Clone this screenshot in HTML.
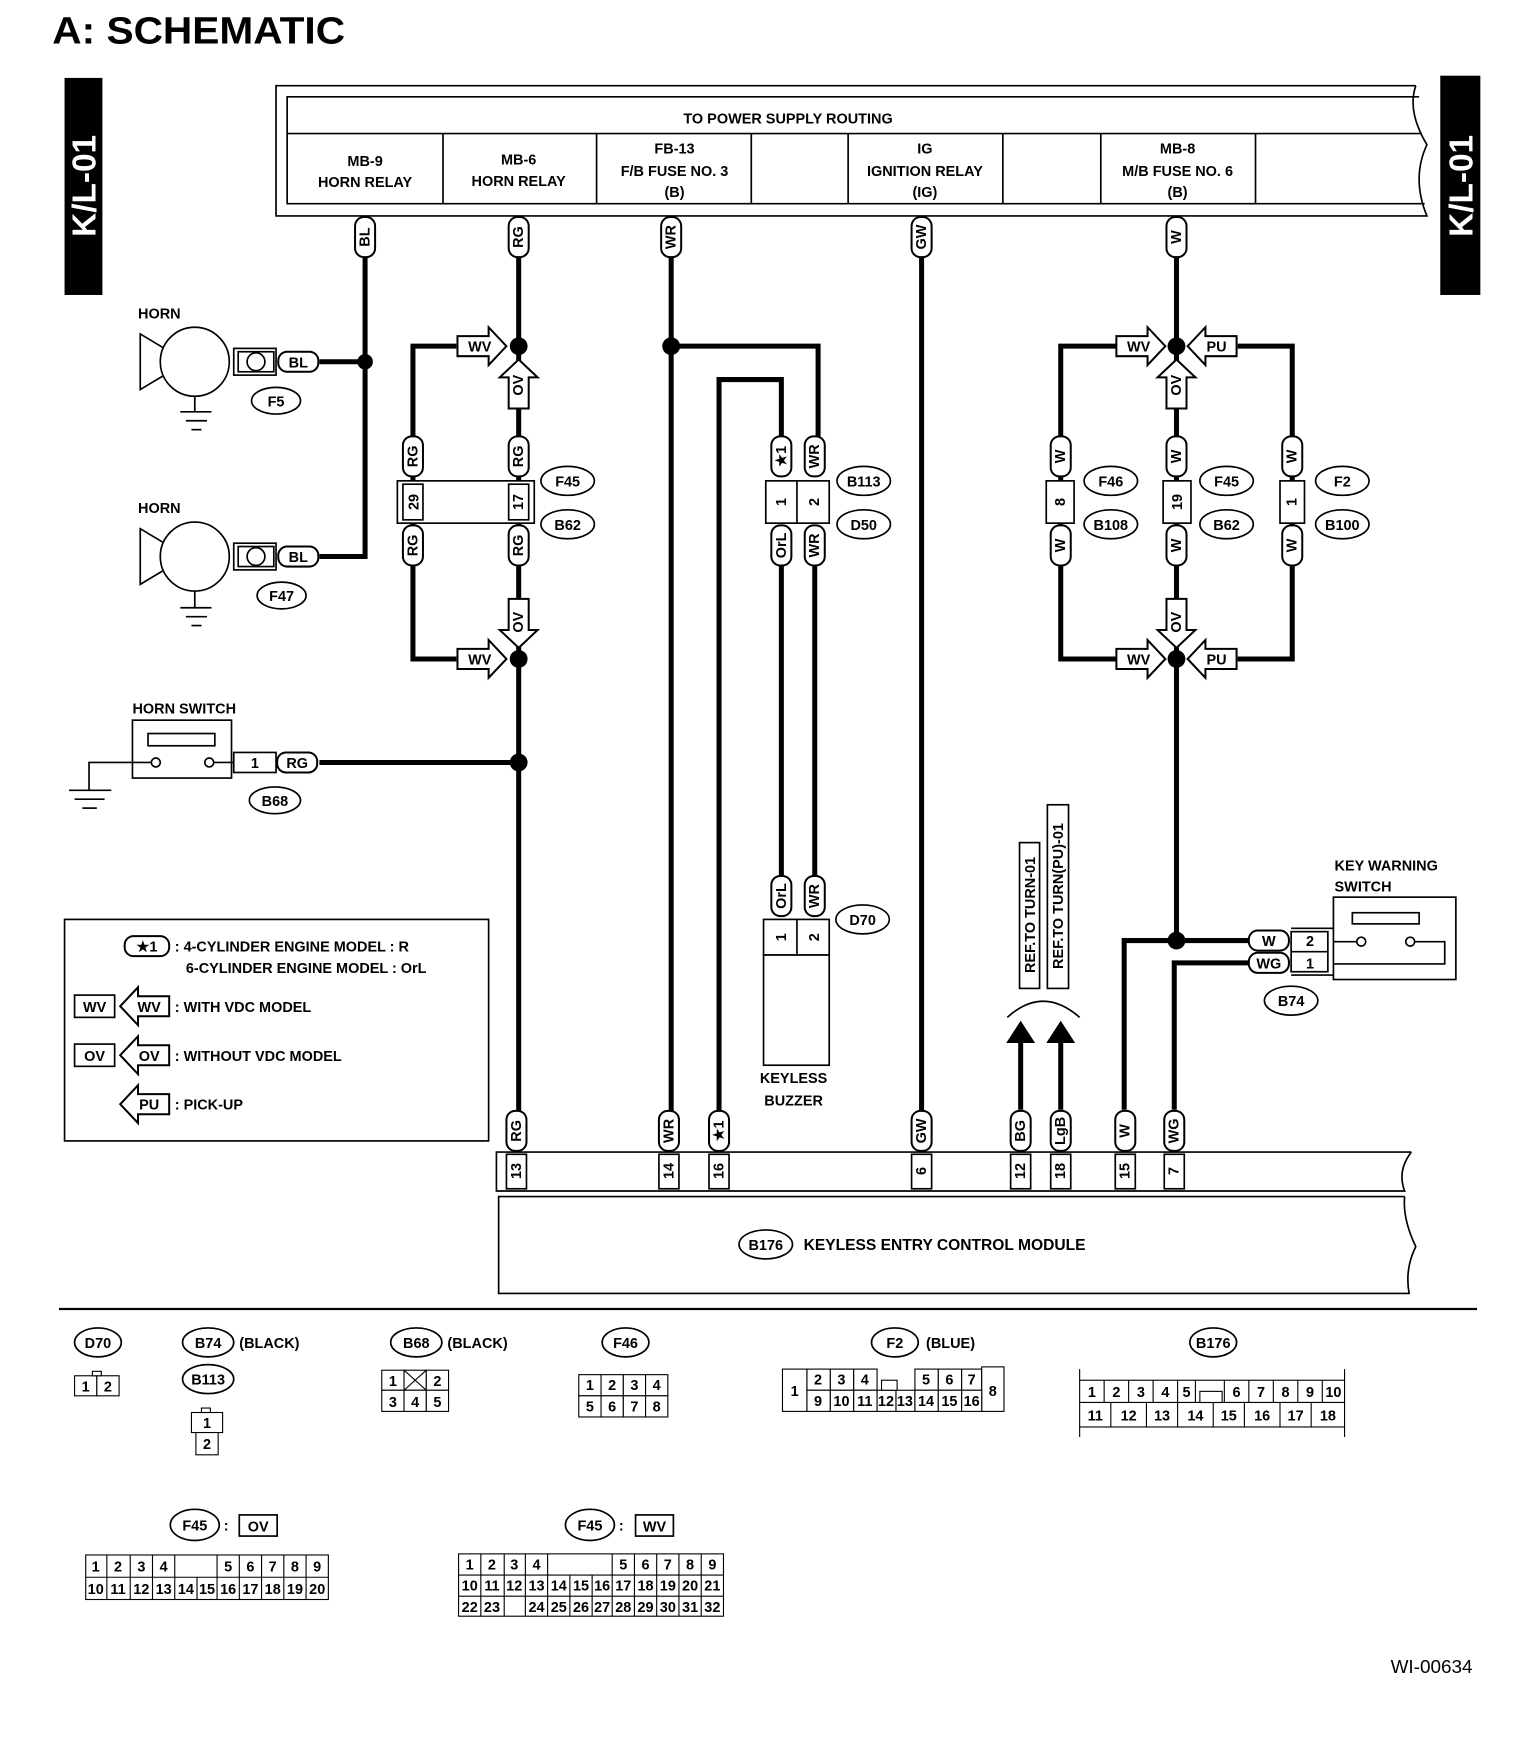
<!DOCTYPE html>
<html><head><meta charset="utf-8"><style>
html,body{margin:0;padding:0;background:#fff}
svg{display:block}
text{font-family:"Liberation Sans",Arial,sans-serif;font-weight:bold;fill:#000}
.w{stroke:#000;stroke-width:4.5;fill:none}
.t{stroke:#000;stroke-width:1.5;fill:none}
.p{stroke:#000;stroke-width:1.8;fill:#fff}
.s{font-size:13px}
.m{font-size:14px}
.g{stroke:#000;stroke-width:1;fill:#fff}
.n{font-size:13px;font-weight:normal}
</style></head><body>
<svg width="1536" height="1752" viewBox="0 0 1380 1574" preserveAspectRatio="none" xmlns="http://www.w3.org/2000/svg">
<defs>
<path id="ar" d="M0,0 L-16,-17 L-16,-9 L-44,-9 L-44,9 L-16,9 L-16,17 Z" class="p"/>
<path id="al" d="M0,0 L16,-17 L16,-9 L44,-9 L44,9 L16,9 L16,17 Z" class="p"/>
<path id="au" d="M0,0 L-17,16 L-9,16 L-9,44 L9,44 L9,16 L17,16 Z" class="p"/>
<path id="ad" d="M0,0 L-17,-16 L-9,-16 L-9,-44 L9,-44 L9,-16 L17,-16 Z" class="p"/>
<rect id="pv" x="-9" y="-18" width="18" height="36" rx="8" class="p"/>
<rect id="ph" x="-18" y="-9" width="36" height="18" rx="8" class="p"/>
</defs>

<text x="47" y="39" style="font-size:34px" textLength="263" lengthAdjust="spacingAndGlyphs">A:  SCHEMATIC</text>

<!-- K/L-01 bars -->
<rect x="58" y="70" width="34" height="195" fill="#000"/>
<text transform="translate(86,167) rotate(-90)" text-anchor="middle" style="font-size:30px;fill:#fff">K/L-01</text>
<rect x="1294" y="68" width="36" height="197" fill="#000"/>
<text transform="translate(1323,167) rotate(-90)" text-anchor="middle" style="font-size:30px;fill:#fff">K/L-01</text>

<!-- power supply box -->
<path d="M1272,77 L248,77 L248,194 L1282,194 Q1268,160 1282,130 Q1264,100 1272,77" class="t" stroke-width="2"/>
<path d="M1275,87 L258,87 L258,183 L1280,183" class="t" stroke-width="2"/>
<line x1="258" y1="120" x2="1277" y2="120" class="t" stroke-width="2"/>
<g class="t" stroke-width="1.5">
<line x1="398" y1="120" x2="398" y2="183"/><line x1="536" y1="120" x2="536" y2="183"/>
<line x1="675" y1="120" x2="675" y2="183"/><line x1="762" y1="120" x2="762" y2="183"/>
<line x1="901" y1="120" x2="901" y2="183"/><line x1="989" y1="120" x2="989" y2="183"/>
<line x1="1128" y1="120" x2="1128" y2="183"/></g>
<g class="s" text-anchor="middle">
<text x="708" y="111">TO POWER SUPPLY ROUTING</text>
<text x="328" y="149">MB-9</text><text x="328" y="168">HORN RELAY</text>
<text x="466" y="148">MB-6</text><text x="466" y="167">HORN RELAY</text>
<text x="606" y="138">FB-13</text><text x="606" y="158">F/B FUSE NO. 3</text><text x="606" y="177">(B)</text>
<text x="831" y="138">IG</text><text x="831" y="158">IGNITION RELAY</text><text x="831" y="177">(IG)</text>
<text x="1058" y="138">MB-8</text><text x="1058" y="158">M/B FUSE NO. 6</text><text x="1058" y="177">(B)</text>
</g>

<!-- main wires -->
<g class="w">
<path d="M328,230 V500 H287"/><path d="M328,325 H287"/>
<path d="M466,230 V1000"/>
<path d="M410,311 H371 V592 H410"/>
<path d="M287,685 H466"/>
<path d="M603,230 V1000"/><path d="M603,311 H735 V392"/>
<path d="M646,1000 V341 H702 V392"/>
<path d="M702,508 V787"/><path d="M732,508 V787"/>
<path d="M828,230 V1000"/>
<path d="M1057,230 V845"/>
<path d="M1003,311 H953 V592 H1003"/><path d="M1112,311 H1161 V592 H1112"/>
<path d="M1122,845 H1010 V997"/><path d="M1122,865 H1055 V997"/>
<path d="M917,935 V997"/><path d="M953,935 V997"/>
</g>
<g fill="#000">
<circle cx="328" cy="325" r="7"/><circle cx="466" cy="311" r="8"/><circle cx="466" cy="592" r="8"/><circle cx="466" cy="685" r="8"/>
<circle cx="603" cy="311" r="8"/><circle cx="1057" cy="311" r="8"/><circle cx="1057" cy="592" r="8"/><circle cx="1057" cy="845" r="8"/>
<path d="M917,917 L904,937 L930,937 Z"/><path d="M953,917 L940,937 L966,937 Z"/>
</g>

<!-- vertical pills -->
<g>
<use href="#pv" x="328" y="213"/><use href="#pv" x="466" y="213"/><use href="#pv" x="603" y="213"/><use href="#pv" x="828" y="213"/><use href="#pv" x="1057" y="213"/>
<use href="#pv" x="371" y="410"/><use href="#pv" x="466" y="410"/><use href="#pv" x="371" y="490"/><use href="#pv" x="466" y="490"/>
<use href="#pv" x="702" y="410"/><use href="#pv" x="732" y="410"/><use href="#pv" x="702" y="490"/><use href="#pv" x="732" y="490"/>
<use href="#pv" x="702" y="805"/><use href="#pv" x="732" y="805"/>
<use href="#pv" x="953" y="410"/><use href="#pv" x="1057" y="410"/><use href="#pv" x="1161" y="410"/>
<use href="#pv" x="953" y="490"/><use href="#pv" x="1057" y="490"/><use href="#pv" x="1161" y="490"/>
<use href="#pv" x="464" y="1016"/><use href="#pv" x="601" y="1016"/><use href="#pv" x="646" y="1016"/><use href="#pv" x="828" y="1016"/>
<use href="#pv" x="917" y="1016"/><use href="#pv" x="953" y="1016"/><use href="#pv" x="1011" y="1016"/><use href="#pv" x="1055" y="1016"/>
</g>
<g class="s" text-anchor="middle">
<text transform="translate(332,213) rotate(-90)">BL</text><text transform="translate(470,213) rotate(-90)">RG</text>
<text transform="translate(607,213) rotate(-90)">WR</text><text transform="translate(832,213) rotate(-90)">GW</text>
<text transform="translate(1061,213) rotate(-90)">W</text>
<text transform="translate(375,410) rotate(-90)">RG</text><text transform="translate(470,410) rotate(-90)">RG</text>
<text transform="translate(375,490) rotate(-90)">RG</text><text transform="translate(470,490) rotate(-90)">RG</text>
<text transform="translate(706,410) rotate(-90)">★1</text><text transform="translate(736,410) rotate(-90)">WR</text>
<text transform="translate(706,490) rotate(-90)">OrL</text><text transform="translate(736,490) rotate(-90)">WR</text>
<text transform="translate(706,805) rotate(-90)">OrL</text><text transform="translate(736,805) rotate(-90)">WR</text>
<text transform="translate(957,410) rotate(-90)">W</text><text transform="translate(1061,410) rotate(-90)">W</text><text transform="translate(1165,410) rotate(-90)">W</text>
<text transform="translate(957,490) rotate(-90)">W</text><text transform="translate(1061,490) rotate(-90)">W</text><text transform="translate(1165,490) rotate(-90)">W</text>
<text transform="translate(468,1016) rotate(-90)">RG</text><text transform="translate(605,1016) rotate(-90)">WR</text>
<text transform="translate(650,1016) rotate(-90)">★1</text><text transform="translate(832,1016) rotate(-90)">GW</text>
<text transform="translate(921,1016) rotate(-90)">BG</text><text transform="translate(957,1016) rotate(-90)">LgB</text>
<text transform="translate(1015,1016) rotate(-90)">W</text><text transform="translate(1059,1016) rotate(-90)">WG</text>
</g>

<!-- block arrows -->
<use href="#ar" x="455" y="311"/><use href="#au" x="466" y="323"/>
<use href="#ad" x="466" y="582"/><use href="#ar" x="455" y="592"/>
<use href="#ar" x="1047" y="311"/><use href="#al" x="1067" y="311"/><use href="#au" x="1057" y="323"/>
<use href="#ad" x="1057" y="582"/><use href="#ar" x="1047" y="592"/><use href="#al" x="1067" y="592"/>
<g class="s" text-anchor="middle">
<text x="431" y="316">WV</text><text x="431" y="597">WV</text>
<text transform="translate(470,346) rotate(-90)">OV</text><text transform="translate(470,559) rotate(-90)">OV</text>
<text x="1023" y="316">WV</text><text x="1023" y="597">WV</text>
<text x="1093" y="316">PU</text><text x="1093" y="597">PU</text>
<text transform="translate(1061,346) rotate(-90)">OV</text><text transform="translate(1061,559) rotate(-90)">OV</text>
</g>

<!-- connectors -->
<g class="t" stroke-width="1.8" fill="#fff">
<rect x="357" y="432" width="123" height="38" fill="#fff"/>
<rect x="362" y="435" width="18" height="32"/><rect x="457" y="435" width="18" height="32"/>
<rect x="688" y="432" width="57" height="38" fill="#fff"/><line x1="716" y1="432" x2="716" y2="470"/>
<rect x="940" y="432" width="25" height="38" fill="#fff"/><rect x="1045" y="432" width="25" height="38" fill="#fff"/><rect x="1150" y="432" width="22" height="38" fill="#fff"/>
<rect x="686" y="826" width="59" height="32" fill="#fff"/><line x1="716" y1="826" x2="716" y2="858"/>
<rect x="686" y="858" width="59" height="99" fill="#fff"/>
</g>
<g class="s" text-anchor="middle">
<text transform="translate(376,451) rotate(-90)">29</text><text transform="translate(470,451) rotate(-90)">17</text>
<text transform="translate(706,451) rotate(-90)">1</text><text transform="translate(736,451) rotate(-90)">2</text>
<text transform="translate(957,451) rotate(-90)">8</text><text transform="translate(1062,451) rotate(-90)">19</text><text transform="translate(1165,451) rotate(-90)">1</text>
<text transform="translate(706,842) rotate(-90)">1</text><text transform="translate(736,842) rotate(-90)">2</text>
<text x="713" y="973">KEYLESS</text><text x="713" y="993">BUZZER</text>
</g>

<!-- ellipse labels -->
<g class="t" stroke-width="1.8" fill="#fff">
<ellipse cx="248" cy="360" rx="22" ry="12" fill="#fff"/><ellipse cx="253" cy="535" rx="22" ry="12" fill="#fff"/>
<ellipse cx="510" cy="432" rx="24" ry="13" fill="#fff"/><ellipse cx="510" cy="471" rx="24" ry="13" fill="#fff"/>
<ellipse cx="776" cy="432" rx="24" ry="13" fill="#fff"/><ellipse cx="776" cy="471" rx="24" ry="13" fill="#fff"/>
<ellipse cx="998" cy="432" rx="24" ry="13" fill="#fff"/><ellipse cx="998" cy="471" rx="24" ry="13" fill="#fff"/>
<ellipse cx="1102" cy="432" rx="24" ry="13" fill="#fff"/><ellipse cx="1102" cy="471" rx="24" ry="13" fill="#fff"/>
<ellipse cx="1206" cy="432" rx="24" ry="13" fill="#fff"/><ellipse cx="1206" cy="471" rx="24" ry="13" fill="#fff"/>
<ellipse cx="247" cy="719" rx="23" ry="12" fill="#fff"/><ellipse cx="775" cy="826" rx="24" ry="13" fill="#fff"/>
<ellipse cx="1160" cy="899" rx="24" ry="13" fill="#fff"/><ellipse cx="688" cy="1118" rx="24" ry="13" fill="#fff"/>
</g>
<g class="s" text-anchor="middle">
<text x="248" y="365">F5</text><text x="253" y="540">F47</text>
<text x="510" y="437">F45</text><text x="510" y="476">B62</text>
<text x="776" y="437">B113</text><text x="776" y="476">D50</text>
<text x="998" y="437">F46</text><text x="998" y="476">B108</text>
<text x="1102" y="437">F45</text><text x="1102" y="476">B62</text>
<text x="1206" y="437">F2</text><text x="1206" y="476">B100</text>
<text x="247" y="724">B68</text><text x="775" y="831">D70</text>
<text x="1160" y="904">B74</text><text x="688" y="1123">B176</text>
</g>

<!-- horns -->
<g class="t" stroke-width="2">
<circle cx="175" cy="325" r="31" fill="#fff"/><path d="M146,312 L126,300 L126,350 L146,338"/>
<line x1="175" y1="356" x2="175" y2="370"/><line x1="162" y1="370" x2="190" y2="370"/><line x1="167" y1="378" x2="186" y2="378"/><line x1="172" y1="386" x2="181" y2="386"/>
<rect x="210" y="313" width="38" height="24" fill="#fff"/><rect x="214" y="316" width="32" height="18"/><circle cx="230" cy="325" r="8"/>
<circle cx="175" cy="500" r="31" fill="#fff"/><path d="M146,487 L126,475 L126,525 L146,513"/>
<line x1="175" y1="531" x2="175" y2="546"/><line x1="162" y1="546" x2="190" y2="546"/><line x1="167" y1="554" x2="186" y2="554"/><line x1="172" y1="562" x2="181" y2="562"/>
<rect x="210" y="488" width="38" height="24" fill="#fff"/><rect x="214" y="491" width="32" height="18"/><circle cx="230" cy="500" r="8"/>
</g>
<use href="#ph" x="268" y="325"/><use href="#ph" x="268" y="500"/>
<g class="s" text-anchor="middle"><text x="268" y="330">BL</text><text x="268" y="505">BL</text></g>
<text x="124" y="286" class="s">HORN</text><text x="124" y="461" class="s">HORN</text>

<!-- horn switch -->
<text x="119" y="641" class="s">HORN SWITCH</text>
<g class="t" stroke-width="1.8">
<rect x="119" y="647" width="89" height="52"/><rect x="133" y="659" width="60" height="11"/>
<circle cx="140" cy="685" r="4"/><circle cx="188" cy="685" r="4"/>
<path d="M136,685 H80 V710"/><path d="M192,685 H210"/>
<line x1="62" y1="710" x2="100" y2="710"/><line x1="67" y1="718" x2="94" y2="718"/><line x1="74" y1="726" x2="87" y2="726"/>
<rect x="210" y="676" width="38" height="18" fill="#fff"/>
</g>
<use href="#ph" x="267" y="685"/>
<g class="s" text-anchor="middle"><text x="229" y="690">1</text><text x="267" y="690">RG</text></g>

<!-- key warning switch -->
<text x="1199" y="782" class="s">KEY WARNING</text><text x="1199" y="801" class="s">SWITCH</text>
<g class="t" stroke-width="1.8">
<rect x="1198" y="806" width="110" height="74"/><rect x="1215" y="820" width="60" height="10"/>
<circle cx="1223" cy="846" r="4"/><circle cx="1267" cy="846" r="4"/>
<path d="M1198,846 H1219"/><path d="M1271,846 H1298 V866 H1198"/>
<rect x="1160" y="837" width="33" height="36" fill="#fff"/><line x1="1160" y1="855" x2="1193" y2="855"/>
<line x1="1160" y1="834" x2="1198" y2="834"/><line x1="1160" y1="876" x2="1198" y2="876"/>
</g>
<use href="#ph" x="1140" y="845"/><use href="#ph" x="1140" y="865"/>
<g class="s" text-anchor="middle"><text x="1140" y="850">W</text><text x="1140" y="870">WG</text>
<text x="1177" y="850">2</text><text x="1177" y="870">1</text></g>

<!-- REF labels -->
<g class="t" stroke-width="2"><rect x="916" y="757" width="18" height="131" fill="#fff"/><rect x="941" y="723" width="19" height="165" fill="#fff"/>
<path d="M905,914 Q937,885 970,914"/></g>
<g class="s" text-anchor="middle"><text transform="translate(930,822) rotate(-90)">REF.TO TURN-01</text><text transform="translate(955,805) rotate(-90)">REF.TO TURN(PU)-01</text></g>

<!-- legend -->
<rect x="58" y="826" width="381" height="199" class="t" stroke-width="2"/>
<rect x="112" y="841" width="40" height="18" rx="8" class="p"/>
<g class="s">
<text x="132" y="855" text-anchor="middle">★1</text>
<text x="157" y="855">: 4-CYLINDER ENGINE MODEL  : R</text>
<text x="167" y="874">6-CYLINDER ENGINE MODEL  : OrL</text>
<text x="157" y="909">: WITH VDC MODEL</text>
<text x="157" y="953">: WITHOUT VDC MODEL</text>
<text x="157" y="997">: PICK-UP</text>
</g>
<rect x="67" y="894" width="36" height="20" class="t" stroke-width="2"/><rect x="67" y="938" width="36" height="20" class="t" stroke-width="2"/>
<use href="#al" x="108" y="904"/><use href="#al" x="108" y="948"/><use href="#al" x="108" y="992"/>
<g class="s" text-anchor="middle"><text x="85" y="909">WV</text><text x="85" y="953">OV</text>
<text x="134" y="909">WV</text><text x="134" y="953">OV</text><text x="134" y="997">PU</text></g>

<!-- module -->
<path d="M1268,1035 L446,1035 L446,1070 L1262,1070 Q1255,1052 1268,1035" class="t" stroke-width="2"/>
<path d="M1262,1075 L448,1075 L448,1162 L1266,1162 Q1262,1140 1272,1120 Q1260,1095 1262,1075" class="t" stroke-width="2"/>
<g class="t" stroke-width="1.8">
<rect x="455" y="1037" width="18" height="31"/><rect x="592" y="1037" width="18" height="31"/><rect x="637" y="1037" width="18" height="31"/>
<rect x="819" y="1037" width="18" height="31"/><rect x="908" y="1037" width="18" height="31"/><rect x="944" y="1037" width="18" height="31"/>
<rect x="1002" y="1037" width="18" height="31"/><rect x="1046" y="1037" width="18" height="31"/>
</g>
<g class="s" text-anchor="middle">
<text transform="translate(468,1052) rotate(-90)">13</text><text transform="translate(605,1052) rotate(-90)">14</text>
<text transform="translate(650,1052) rotate(-90)">16</text><text transform="translate(832,1052) rotate(-90)">6</text>
<text transform="translate(921,1052) rotate(-90)">12</text><text transform="translate(957,1052) rotate(-90)">18</text>
<text transform="translate(1015,1052) rotate(-90)">15</text><text transform="translate(1059,1052) rotate(-90)">7</text>
</g>
<text x="722" y="1123" class="m">KEYLESS ENTRY CONTROL MODULE</text>

<line x1="53" y1="1176" x2="1327" y2="1176" stroke="#000" stroke-width="2"/>

<!-- bottom connector pictures -->
<g class="t" stroke-width="1.8" fill="#fff">
<ellipse cx="88" cy="1206" rx="21" ry="13" fill="#fff"/><ellipse cx="187" cy="1206" rx="23" ry="13" fill="#fff"/>
<ellipse cx="187" cy="1239" rx="23" ry="13" fill="#fff"/><ellipse cx="374" cy="1206" rx="23" ry="13" fill="#fff"/>
<ellipse cx="562" cy="1206" rx="21" ry="13" fill="#fff"/><ellipse cx="804" cy="1206" rx="21" ry="13" fill="#fff"/>
<ellipse cx="1090" cy="1206" rx="21" ry="13" fill="#fff"/>
<ellipse cx="175" cy="1370" rx="22" ry="14" fill="#fff"/><ellipse cx="530" cy="1370" rx="22" ry="14" fill="#fff"/>
</g>
<g class="s" text-anchor="middle">
<text x="88" y="1211">D70</text><text x="187" y="1211">B74</text><text x="187" y="1244">B113</text>
<text x="374" y="1211">B68</text><text x="562" y="1211">F46</text><text x="804" y="1211">F2</text><text x="1090" y="1211">B176</text>
<text x="175" y="1375">F45</text><text x="530" y="1375">F45</text>
</g>
<g class="s"><text x="215" y="1211">(BLACK)</text><text x="402" y="1211">(BLACK)</text><text x="832" y="1211">(BLUE)</text>
<text x="201" y="1375">:</text><text x="556" y="1375">:</text></g>
<rect x="215" y="1361" width="34" height="19" class="t" stroke-width="2.5"/><rect x="571" y="1361" width="34" height="19" class="t" stroke-width="2.5"/>
<g class="s" text-anchor="middle"><text x="232" y="1376">OV</text><text x="588" y="1376">WV</text></g>

<g class="g">
<rect x="67" y="1236" width="20" height="18"/><rect x="87" y="1236" width="20" height="18"/><rect x="83" y="1232" width="8" height="4"/>
<rect x="172" y="1269" width="28" height="18"/><rect x="176" y="1287" width="20" height="20"/><rect x="181" y="1265" width="8" height="4"/>
<rect x="343" y="1231" width="20" height="18"/><rect x="363" y="1231" width="20" height="18"/><rect x="383" y="1231" width="20" height="18"/>
<rect x="343" y="1249" width="20" height="19"/><rect x="363" y="1249" width="20" height="19"/><rect x="383" y="1249" width="20" height="19"/>
<rect x="520" y="1235" width="20" height="19"/><rect x="540" y="1235" width="20" height="19"/><rect x="560" y="1235" width="20" height="19"/><rect x="580" y="1235" width="20" height="19"/>
<rect x="520" y="1254" width="20" height="19"/><rect x="540" y="1254" width="20" height="19"/><rect x="560" y="1254" width="20" height="19"/><rect x="580" y="1254" width="20" height="19"/>
<rect x="703" y="1230" width="22" height="38"/>
<rect x="725" y="1230" width="21" height="19"/><rect x="746" y="1230" width="21" height="19"/><rect x="767" y="1230" width="21" height="19"/>
<rect x="822" y="1230" width="21" height="19"/><rect x="843" y="1230" width="21" height="19"/><rect x="864" y="1230" width="18" height="19"/>
<rect x="882" y="1228" width="20" height="40"/>
<rect x="725" y="1249" width="21" height="19"/><rect x="746" y="1249" width="21" height="19"/><rect x="767" y="1249" width="21" height="19"/>
<rect x="788" y="1249" width="17" height="19"/><rect x="805" y="1249" width="17" height="19"/><rect x="822" y="1249" width="21" height="19"/>
<rect x="843" y="1249" width="21" height="19"/><rect x="864" y="1249" width="18" height="19"/><rect x="792" y="1240" width="14" height="9"/>
<rect x="970" y="1240" width="238" height="42"/><line x1="970" y1="1260" x2="1208" y2="1260"/>
<line x1="992" y1="1240" x2="992" y2="1260"/><line x1="1014" y1="1240" x2="1014" y2="1260"/><line x1="1036" y1="1240" x2="1036" y2="1260"/><line x1="1058" y1="1240" x2="1058" y2="1260"/><line x1="1074" y1="1240" x2="1074" y2="1260"/>
<line x1="1100" y1="1240" x2="1100" y2="1260"/><line x1="1122" y1="1240" x2="1122" y2="1260"/><line x1="1144" y1="1240" x2="1144" y2="1260"/><line x1="1166" y1="1240" x2="1166" y2="1260"/><line x1="1188" y1="1240" x2="1188" y2="1260"/>
<line x1="998" y1="1260" x2="998" y2="1282"/><line x1="1030" y1="1260" x2="1030" y2="1282"/><line x1="1058" y1="1260" x2="1058" y2="1282"/><line x1="1090" y1="1260" x2="1090" y2="1282"/>
<line x1="1118" y1="1260" x2="1118" y2="1282"/><line x1="1150" y1="1260" x2="1150" y2="1282"/><line x1="1178" y1="1260" x2="1178" y2="1282"/>
<rect x="1078" y="1250" width="20" height="10"/>
<line x1="970" y1="1230" x2="970" y2="1240"/><line x1="1208" y1="1230" x2="1208" y2="1240"/><line x1="970" y1="1282" x2="970" y2="1291"/><line x1="1208" y1="1282" x2="1208" y2="1291"/>
<rect x="77" y="1397" width="218" height="40"/><line x1="77" y1="1417" x2="295" y2="1417"/>
<line x1="96" y1="1397" x2="96" y2="1437"/><line x1="117" y1="1397" x2="117" y2="1437"/><line x1="137" y1="1397" x2="137" y2="1437"/><line x1="157" y1="1397" x2="157" y2="1437"/>
<line x1="177" y1="1417" x2="177" y2="1437"/><line x1="195" y1="1397" x2="195" y2="1437"/><line x1="215" y1="1397" x2="215" y2="1437"/><line x1="235" y1="1397" x2="235" y2="1437"/>
<line x1="255" y1="1397" x2="255" y2="1437"/><line x1="275" y1="1397" x2="275" y2="1437"/>
<rect x="412" y="1396" width="238" height="56"/><line x1="412" y1="1415" x2="650" y2="1415"/><line x1="412" y1="1434" x2="650" y2="1434"/>
<line x1="432" y1="1396" x2="432" y2="1452"/><line x1="453" y1="1396" x2="453" y2="1452"/><line x1="472" y1="1396" x2="472" y2="1452"/><line x1="492" y1="1396" x2="492" y2="1452"/>
<line x1="512" y1="1415" x2="512" y2="1452"/><line x1="532" y1="1415" x2="532" y2="1452"/><line x1="550" y1="1396" x2="550" y2="1452"/>
<line x1="570" y1="1396" x2="570" y2="1452"/><line x1="590" y1="1396" x2="590" y2="1452"/><line x1="610" y1="1396" x2="610" y2="1452"/><line x1="630" y1="1396" x2="630" y2="1452"/>
</g>
<g class="n" text-anchor="middle">
<text x="77" y="1250">1</text><text x="97" y="1250">2</text>
<text x="186" y="1283">1</text><text x="186" y="1302">2</text>
<text x="353" y="1245">1</text><text x="393" y="1245">2</text><text x="353" y="1264">3</text><text x="373" y="1264">4</text><text x="393" y="1264">5</text>
<path d="M363,1231 L383,1249 M383,1231 L363,1249" stroke="#000"/>
<text x="530" y="1249">1</text><text x="550" y="1249">2</text><text x="570" y="1249">3</text><text x="590" y="1249">4</text>
<text x="530" y="1268">5</text><text x="550" y="1268">6</text><text x="570" y="1268">7</text><text x="590" y="1268">8</text>
<text x="714" y="1254">1</text><text x="735" y="1244">2</text><text x="756" y="1244">3</text><text x="777" y="1244">4</text>
<text x="832" y="1244">5</text><text x="853" y="1244">6</text><text x="873" y="1244">7</text><text x="892" y="1254">8</text>
<text x="735" y="1263">9</text><text x="756" y="1263">10</text><text x="777" y="1263">11</text><text x="796" y="1263">12</text><text x="813" y="1263">13</text>
<text x="832" y="1263">14</text><text x="853" y="1263">15</text><text x="873" y="1263">16</text>
<text x="981" y="1255">1</text><text x="1003" y="1255">2</text><text x="1025" y="1255">3</text><text x="1047" y="1255">4</text><text x="1066" y="1255">5</text>
<text x="1111" y="1255">6</text><text x="1133" y="1255">7</text><text x="1155" y="1255">8</text><text x="1177" y="1255">9</text><text x="1198" y="1255">10</text>
<text x="984" y="1276">11</text><text x="1014" y="1276">12</text><text x="1044" y="1276">13</text><text x="1074" y="1276">14</text>
<text x="1104" y="1276">15</text><text x="1134" y="1276">16</text><text x="1164" y="1276">17</text><text x="1193" y="1276">18</text>
<text x="86" y="1412">1</text><text x="106" y="1412">2</text><text x="127" y="1412">3</text><text x="147" y="1412">4</text>
<text x="205" y="1412">5</text><text x="225" y="1412">6</text><text x="245" y="1412">7</text><text x="265" y="1412">8</text><text x="285" y="1412">9</text>
<text x="86" y="1432">10</text><text x="106" y="1432">11</text><text x="127" y="1432">12</text><text x="147" y="1432">13</text><text x="167" y="1432">14</text>
<text x="186" y="1432">15</text><text x="205" y="1432">16</text><text x="225" y="1432">17</text><text x="245" y="1432">18</text><text x="265" y="1432">19</text><text x="285" y="1432">20</text>
<text x="422" y="1410">1</text><text x="442" y="1410">2</text><text x="462" y="1410">3</text><text x="482" y="1410">4</text>
<text x="560" y="1410">5</text><text x="580" y="1410">6</text><text x="600" y="1410">7</text><text x="620" y="1410">8</text><text x="640" y="1410">9</text>
<text x="422" y="1429">10</text><text x="442" y="1429">11</text><text x="462" y="1429">12</text><text x="482" y="1429">13</text><text x="502" y="1429">14</text>
<text x="522" y="1429">15</text><text x="541" y="1429">16</text><text x="560" y="1429">17</text><text x="580" y="1429">18</text><text x="600" y="1429">19</text><text x="620" y="1429">20</text><text x="640" y="1429">21</text>
<text x="422" y="1448">22</text><text x="442" y="1448">23</text><text x="482" y="1448">24</text><text x="502" y="1448">25</text><text x="522" y="1448">26</text>
<text x="541" y="1448">27</text><text x="560" y="1448">28</text><text x="580" y="1448">29</text><text x="600" y="1448">30</text><text x="620" y="1448">31</text><text x="640" y="1448">32</text>
</g>

<text x="1323" y="1503" text-anchor="end" style="font-size:17px;font-weight:normal">WI-00634</text>
</svg>
</body></html>
